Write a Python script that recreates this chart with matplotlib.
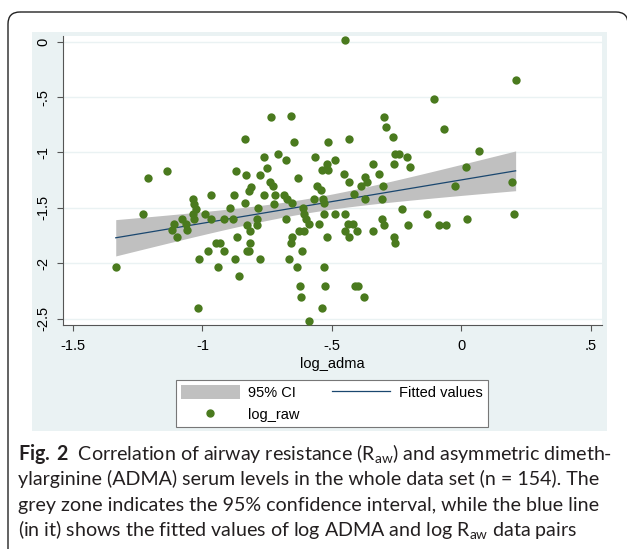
import numpy as np
import matplotlib
matplotlib.use("Agg")
import matplotlib.pyplot as plt
from matplotlib.patches import Rectangle, FancyBboxPatch, Patch
from matplotlib.lines import Line2D
from matplotlib.transforms import Affine2D

# data (x = log_adma, y = log_raw)
log_adma = [
    -1.209, -1.137, -1.231, -1.335, -1.109, -1.118, -1.100, -1.078, -1.064, -1.061,
    -1.038, -1.034, -1.025, -1.036, -1.032, -1.012, -1.016,
    -0.736, -0.836, -0.763, -0.707, -0.679, -0.660, -0.869, -0.832, -0.752, -0.778,
    -0.738, -0.727, -0.813, -0.819, -0.968, -0.877, -0.763, -0.720, -0.686, -0.675,
    -0.836, -0.725,
    -0.990, -0.967, -0.894, -0.785, -0.916, -0.883, -0.829, -0.791, -0.790, -0.677,
    -0.817, -0.867, -0.948, -0.932, -0.817, -0.978, -0.917, -0.829, -0.820, -0.876,
    -0.777, -0.666, -0.941, -0.860,
    -0.450, -0.648, -0.514, -0.436, -0.566, -0.519, -0.487, -0.540, -0.514, -0.633,
    -0.455, -0.433, -0.343, -0.319, -0.373, -0.364, -0.388, -0.559, -0.542, -0.414,
    -0.656, -0.568, -0.534, -0.531, -0.373,
    -0.611, -0.607, -0.602, -0.589, -0.530, -0.490, -0.450, -0.550, -0.437, -0.420,
    -0.450, -0.405, -0.343, -0.433, -0.519, -0.627, -0.607, -0.653, -0.658, -0.615,
    -0.635, -0.530, -0.625, -0.527, -0.411, -0.401, -0.620, -0.376, -0.540, -0.589,
    0.209, -0.105, -0.066, -0.298, -0.290, -0.263, -0.257, -0.241, -0.212, -0.198,
    -0.259, 0.068, 0.016, -0.025, 0.194, -0.302, -0.306, -0.231, -0.132, 0.203,
    -0.306, -0.298, -0.208, -0.086, -0.061, 0.021, -0.259, -0.257,
]
log_raw = [
    -1.227, -1.164, -1.555, -2.033, -1.648, -1.699, -1.763, -1.603, -1.645, -1.699,
    -1.422, -1.465, -1.513, -1.558, -1.603, -1.961, -2.403,
    -0.682, -0.881, -1.043, -1.014, -1.071, -0.668, -1.164, -1.200, -1.137, -1.200,
    -1.263, -1.302, -1.309, -1.347, -1.381, -1.381, -1.381, -1.384, -1.381, -1.420,
    -1.453, -1.462,
    -1.558, -1.603, -1.504, -1.504, -1.603, -1.603, -1.654, -1.603, -1.654, -1.598,
    -1.708, -1.765, -1.820, -1.820, -1.820, -1.886, -1.886, -1.886, -1.886, -1.958,
    -1.958, -1.958, -2.036, -2.115,
    0.015, -0.908, -0.908, -0.881, -1.041, -1.101, -1.065, -1.161, -1.161, -1.227,
    -1.194, -1.266, -1.101, -1.197, -1.221, -1.263, -1.300, -1.300, -1.338, -1.375,
    -1.453, -1.423, -1.423, -1.459, -1.420,
    -1.504, -1.555, -1.603, -1.648, -1.555, -1.555, -1.555, -1.648, -1.648, -1.648,
    -1.706, -1.706, -1.706, -1.765, -1.760, -1.706, -1.706, -1.765, -1.820, -1.886,
    -2.036, -2.036, -2.205, -2.205, -2.205, -2.205, -2.301, -2.301, -2.403, -2.521,
    -0.346, -0.520, -0.791, -0.682, -0.770, -0.860, -1.016, -1.016, -1.043, -1.134,
    -1.101, -0.986, -1.134, -1.305, -1.266, -1.305, -1.423, -1.507, -1.555, -1.555,
    -1.603, -1.652, -1.652, -1.652, -1.652, -1.603, -1.763, -1.820,
]

x_ticks = [-1.5, -1, -0.5, 0, 0.5]
x_tick_labels = ["-1.5", "-1", "-.5", "0", ".5"]
y_ticks = [0, -0.5, -1, -1.5, -2, -2.5]
y_tick_labels = ["0", "-.5", "-1", "-1.5", "-2", "-2.5"]

caption = [
    r"$\mathbf{Fig.\;2}$  Correlation of airway resistance (R$_{\mathrm{aw}}$) and asymmetric dimeth-",
    "ylarginine (ADMA) serum levels in the whole data set (n = 154). The",
    "grey zone indicates the 95% confidence interval, while the blue line",
    r"(in it) shows the fitted values of log ADMA and log R$_{\mathrm{aw}}$ data pairs",
]

W, H = 627, 549
plt.rcParams["font.family"] = ["Liberation Sans", "DejaVu Sans"]
plt.rcParams["mathtext.fontset"] = "custom"
plt.rcParams["mathtext.rm"] = "Lato"
plt.rcParams["mathtext.bf"] = "Lato:bold"
plt.rcParams["mathtext.it"] = "Lato:italic"

fig = plt.figure(figsize=(W / 100, H / 100), dpi=100)
# pixel coords, origin top-left
pxt = Affine2D().scale(1 / W, -1 / H).translate(0, 1) + fig.transFigure

# rounded outer frame (only left/top visible)
fig.patches.append(FancyBboxPatch((8, 12), 620, 600, boxstyle="round,pad=0,rounding_size=12",
                                  transform=pxt, facecolor="none", edgecolor="#222222",
                                  linewidth=1.0, zorder=-2))
# Stata graph region
fig.patches.append(Rectangle((32, 32), 575, 399, transform=pxt, facecolor="#EAF2F3",
                             edgecolor="none", zorder=-1))

ax = fig.add_axes([63 / W, 1 - 325 / H, 539 / W, 289 / H])
ax.set_facecolor("white")

# linear fit with 95% CI of the mean
x = np.array(log_adma)
y = np.array(log_raw)
n = len(x)
b, a = np.polyfit(x, y, 1)
s = np.sqrt(np.sum((y - (a + b * x)) ** 2) / (n - 2))
xbar = x.mean()
sxx = np.sum((x - xbar) ** 2)
xs = np.linspace(x.min(), x.max(), 100)
fit = a + b * xs
se = s * np.sqrt(1 / n + (xs - xbar) ** 2 / sxx)
t = 1.976

ax.fill_between(xs, fit - t * se, fit + t * se, color="#C0C0C0", linewidth=0, zorder=1)
ax.plot(xs, fit, color="#1A476F", linewidth=0.9, zorder=2)
ax.scatter(x, y, s=36, color="#4A7A1E", linewidths=0, zorder=3)

ax.set_xlim(-1.5386, 0.5425)
ax.set_ylim(-2.557, 0.051)
ax.set_xticks(x_ticks)
ax.set_xticklabels(x_tick_labels)
ax.set_yticks(y_ticks)
ax.set_yticklabels(y_tick_labels, rotation=90, va="center")
ax.grid(axis="y", color="#EAF2F3", linewidth=1.0, zorder=0)
ax.set_axisbelow(True)
for side in ["top", "right"]:
    ax.spines[side].set_visible(False)
for side in ["left", "bottom"]:
    ax.spines[side].set_color("#555555")
    ax.spines[side].set_linewidth(0.8)
ax.tick_params(colors="#555555", labelcolor="black", labelsize=10.5, length=4, width=0.8)
ax.tick_params(axis="x", pad=6)
ax.tick_params(axis="y", pad=5)
ax.set_xlabel("log_adma", fontsize=10.5, labelpad=3)

handles = [Patch(facecolor="#C0C0C0", edgecolor="none"),
           Line2D([], [], marker="o", linestyle="none", color="#4A7A1E", markersize=5),
           Line2D([], [], color="#1A476F", linewidth=0.9)]
labels = ["95% CI", "log_raw", "Fitted values"]
leg = fig.legend(handles, labels, ncol=2, loc="upper center", bbox_to_anchor=(332, 380),
                 bbox_transform=pxt, fontsize=10.5, frameon=True, fancybox=False,
                 edgecolor="#777777", framealpha=1, handlelength=4, handleheight=1.1,
                 handletextpad=0.6, columnspacing=2.2, labelspacing=0.5, borderpad=0.35,
                 borderaxespad=0)
leg.get_frame().set_linewidth(0.8)

# caption
texts = []
for i, line in enumerate(caption):
    texts.append(fig.text(18, 460 + i * 25.3, line, transform=pxt, fontsize=13,
                          family="Lato", color="#231F20", va="baseline"))
r = fig.canvas.get_renderer()
w0 = texts[0].get_window_extent(r).width
for tt in texts:
    tt.set_fontsize(13 * 592 / w0)

fig.savefig("out.png", dpi=100)
